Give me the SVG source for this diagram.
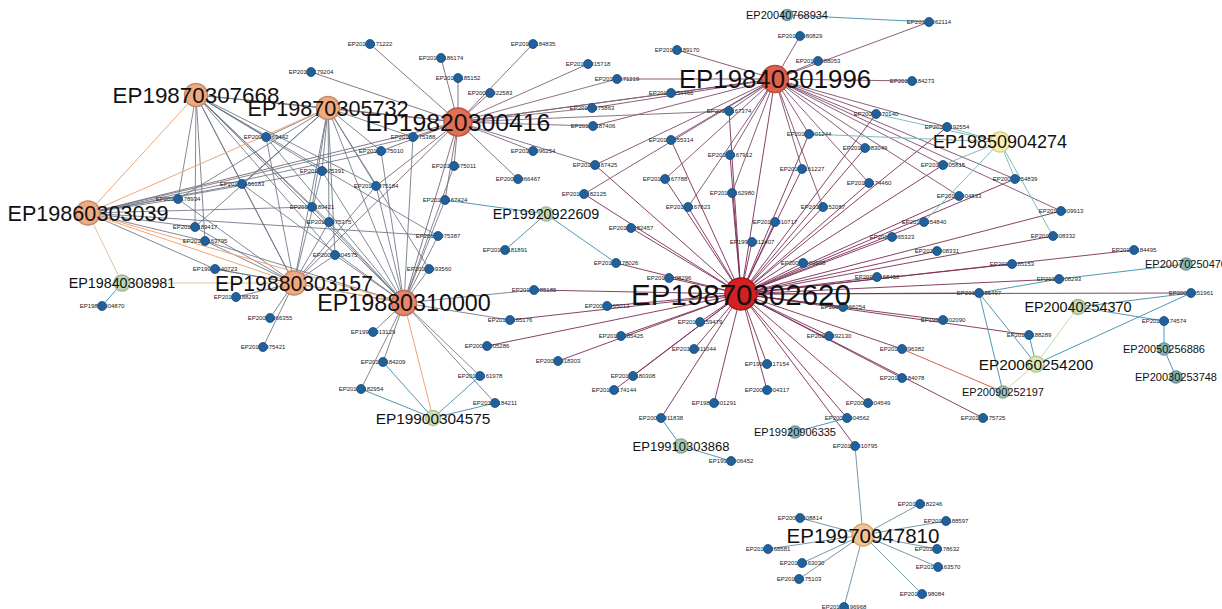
<svg xmlns="http://www.w3.org/2000/svg" width="1222" height="609" viewBox="0 0 1222 609">
<style>
.e line{fill:none;stroke-width:1}
.h{stroke:#7b2c55;stroke-opacity:.9}
.h2{stroke:#7e4d6c;stroke-opacity:.9}
.h3{stroke:#7f6676;stroke-opacity:.9}
.g{stroke:#6c7484;stroke-opacity:.85}
.o{stroke:#f2a574}
.t{stroke:#dfc39a}
.b{stroke:#4f98b6}
.y{stroke:#7fbcbc}
.lg{stroke:#c6dcaa}
.r{stroke:#d9604a}
.gt{stroke:#7898a6}
.sn text{font-family:"Liberation Sans",Arial,sans-serif;font-size:6px;fill:#222;text-anchor:middle;dominant-baseline:central}
.sn circle{fill:#21609a;stroke:#184c7c;stroke-width:.8}
.hub text{font-family:"Liberation Sans",Arial,sans-serif;fill:#111;text-anchor:middle;dominant-baseline:central}
.hub circle{stroke-width:1.5}
</style>
<rect width="1222" height="609" fill="#fff"/>
<g id="edges" class="e">
<!-- hub EP19870302620 -->
<line class="h" x1="741" y1="294" x2="775" y2="79"/>
<line class="h" x1="741" y1="294" x2="584" y2="194"/>
<line class="h" x1="741" y1="294" x2="595" y2="165"/>
<line class="h" x1="741" y1="294" x2="631" y2="228"/>
<line class="h" x1="741" y1="294" x2="616" y2="263"/>
<line class="h" x1="741" y1="294" x2="669" y2="278"/>
<line class="h" x1="741" y1="294" x2="607" y2="306"/>
<line class="h" x1="741" y1="294" x2="534" y2="290"/>
<line class="h" x1="741" y1="294" x2="510" y2="320"/>
<line class="h" x1="741" y1="294" x2="487" y2="346"/>
<line class="h" x1="741" y1="294" x2="558" y2="361"/>
<line class="h" x1="741" y1="294" x2="621" y2="336"/>
<line class="h" x1="741" y1="294" x2="700" y2="322"/>
<line class="h" x1="741" y1="294" x2="694" y2="349"/>
<line class="h" x1="741" y1="294" x2="633" y2="376"/>
<line class="h" x1="741" y1="294" x2="614" y2="390"/>
<line class="h" x1="741" y1="294" x2="714" y2="403"/>
<line class="h" x1="741" y1="294" x2="661" y2="418"/>
<line class="h" x1="741" y1="294" x2="767" y2="364"/>
<line class="h" x1="741" y1="294" x2="767" y2="390"/>
<line class="h" x1="741" y1="294" x2="868" y2="403"/>
<line class="h" x1="741" y1="294" x2="847" y2="418"/>
<line class="h" x1="741" y1="294" x2="855" y2="446"/>
<line class="h" x1="741" y1="294" x2="829" y2="336"/>
<line class="h" x1="741" y1="294" x2="902" y2="349"/>
<line class="h" x1="741" y1="294" x2="902" y2="378"/>
<line class="h" x1="741" y1="294" x2="983" y2="418"/>
<line class="h" x1="741" y1="294" x2="943" y2="320"/>
<line class="h" x1="741" y1="294" x2="1029" y2="335"/>
<line class="h" x1="741" y1="294" x2="979" y2="293"/>
<line class="h" x1="741" y1="294" x2="1191" y2="293"/>
<line class="h" x1="741" y1="294" x2="1059" y2="279"/>
<line class="h" x1="741" y1="294" x2="1012" y2="264"/>
<line class="h" x1="741" y1="294" x2="1134" y2="250"/>
<line class="h" x1="741" y1="294" x2="937" y2="251"/>
<line class="h" x1="741" y1="294" x2="1053" y2="236"/>
<line class="h" x1="741" y1="294" x2="1061" y2="211"/>
<line class="h" x1="741" y1="294" x2="924" y2="222"/>
<line class="h" x1="741" y1="294" x2="892" y2="237"/>
<line class="h" x1="741" y1="294" x2="877" y2="277"/>
<line class="h" x1="741" y1="294" x2="843" y2="307"/>
<line class="h" x1="741" y1="294" x2="803" y2="263"/>
<line class="h" x1="741" y1="294" x2="752" y2="242"/>
<line class="h" x1="741" y1="294" x2="775" y2="222"/>
<line class="h" x1="741" y1="294" x2="823" y2="207"/>
<line class="h" x1="741" y1="294" x2="688" y2="207"/>
<line class="h" x1="741" y1="294" x2="665" y2="179"/>
<line class="h" x1="741" y1="294" x2="671" y2="140"/>
<line class="h" x1="741" y1="294" x2="730" y2="155"/>
<line class="h" x1="741" y1="294" x2="732" y2="193"/>
<line class="h" x1="741" y1="294" x2="802" y2="169"/>
<line class="h" x1="741" y1="294" x2="869" y2="183"/>
<line class="h" x1="741" y1="294" x2="865" y2="148"/>
<line class="h" x1="741" y1="294" x2="809" y2="134"/>
<line class="h" x1="741" y1="294" x2="876" y2="114"/>
<line class="h" x1="741" y1="294" x2="943" y2="165"/>
<line class="h" x1="741" y1="294" x2="959" y2="196"/>
<line class="h" x1="741" y1="294" x2="1015" y2="179"/>
<line class="h" x1="741" y1="294" x2="947" y2="127"/>
<line class="h" x1="741" y1="294" x2="729" y2="111"/>
<!-- hub EP19840301996 -->
<line class="h2" x1="775" y1="79" x2="800" y2="36"/>
<line class="h2" x1="775" y1="79" x2="818" y2="61"/>
<line class="h2" x1="775" y1="79" x2="677" y2="50"/>
<line class="h2" x1="775" y1="79" x2="671" y2="93"/>
<line class="h2" x1="775" y1="79" x2="617" y2="79"/>
<line class="h2" x1="775" y1="79" x2="912" y2="81"/>
<line class="h2" x1="775" y1="79" x2="929" y2="22"/>
<line class="h2" x1="775" y1="79" x2="729" y2="111"/>
<line class="h2" x1="775" y1="79" x2="876" y2="114"/>
<line class="h2" x1="775" y1="79" x2="947" y2="127"/>
<line class="h2" x1="775" y1="79" x2="671" y2="140"/>
<line class="h2" x1="775" y1="79" x2="730" y2="155"/>
<line class="h2" x1="775" y1="79" x2="732" y2="193"/>
<line class="h2" x1="775" y1="79" x2="802" y2="169"/>
<line class="h2" x1="775" y1="79" x2="823" y2="207"/>
<line class="h2" x1="775" y1="79" x2="869" y2="183"/>
<line class="h2" x1="775" y1="79" x2="865" y2="148"/>
<line class="h2" x1="775" y1="79" x2="809" y2="134"/>
<line class="h2" x1="775" y1="79" x2="943" y2="165"/>
<line class="h2" x1="775" y1="79" x2="959" y2="196"/>
<line class="h2" x1="775" y1="79" x2="1015" y2="179"/>
<line class="h2" x1="775" y1="79" x2="1061" y2="211"/>
<line class="h2" x1="775" y1="79" x2="665" y2="179"/>
<line class="h2" x1="775" y1="79" x2="688" y2="207"/>
<line class="h2" x1="775" y1="79" x2="584" y2="194"/>
<line class="h2" x1="775" y1="79" x2="595" y2="165"/>
<line class="h2" x1="775" y1="79" x2="593" y2="126"/>
<line class="h2" x1="775" y1="79" x2="592" y2="108"/>
<line class="h2" x1="775" y1="79" x2="458" y2="122"/>
<!-- hub EP19820300416 -->
<line class="h3" x1="458" y1="122" x2="370" y2="44"/>
<line class="h3" x1="458" y1="122" x2="441" y2="58"/>
<line class="h3" x1="458" y1="122" x2="458" y2="78"/>
<line class="h3" x1="458" y1="122" x2="533" y2="44"/>
<line class="h3" x1="458" y1="122" x2="490" y2="93"/>
<line class="h3" x1="458" y1="122" x2="588" y2="64"/>
<line class="h3" x1="458" y1="122" x2="311" y2="72"/>
<line class="h3" x1="458" y1="122" x2="413" y2="137"/>
<line class="h3" x1="458" y1="122" x2="454" y2="166"/>
<line class="h3" x1="458" y1="122" x2="533" y2="151"/>
<line class="h3" x1="458" y1="122" x2="518" y2="179"/>
<line class="h3" x1="458" y1="122" x2="592" y2="108"/>
<line class="h3" x1="458" y1="122" x2="593" y2="126"/>
<line class="h3" x1="458" y1="122" x2="595" y2="165"/>
<line class="h3" x1="458" y1="122" x2="617" y2="79"/>
<line class="h3" x1="458" y1="122" x2="671" y2="93"/>
<line class="h3" x1="458" y1="122" x2="729" y2="111"/>
<line class="h3" x1="458" y1="122" x2="381" y2="151"/>
<line class="h3" x1="458" y1="122" x2="376" y2="186"/>
<line class="h3" x1="458" y1="122" x2="445" y2="200"/>
<line class="h3" x1="458" y1="122" x2="404" y2="303"/>
<line class="h3" x1="458" y1="122" x2="294" y2="283"/>
<line class="h3" x1="458" y1="122" x2="328" y2="108"/>
<line class="h3" x1="458" y1="122" x2="196" y2="95"/>
<line class="h3" x1="458" y1="122" x2="88" y2="213"/>
<!-- left cluster -->
<line class="g" x1="196" y1="95" x2="328" y2="108"/>
<line class="g" x1="196" y1="95" x2="294" y2="283"/>
<line class="g" x1="196" y1="95" x2="404" y2="303"/>
<line class="g" x1="328" y1="108" x2="294" y2="283"/>
<line class="g" x1="328" y1="108" x2="404" y2="303"/>
<line class="g" x1="196" y1="95" x2="266" y2="137"/>
<line class="g" x1="196" y1="95" x2="242" y2="184"/>
<line class="g" x1="196" y1="95" x2="178" y2="199"/>
<line class="g" x1="196" y1="95" x2="312" y2="207"/>
<line class="g" x1="196" y1="95" x2="329" y2="222"/>
<line class="g" x1="196" y1="95" x2="205" y2="241"/>
<line class="g" x1="196" y1="95" x2="195" y2="227"/>
<line class="g" x1="196" y1="95" x2="335" y2="255"/>
<line class="g" x1="196" y1="95" x2="438" y2="236"/>
<line class="g" x1="196" y1="95" x2="322" y2="171"/>
<line class="g" x1="196" y1="95" x2="376" y2="186"/>
<line class="g" x1="328" y1="108" x2="266" y2="137"/>
<line class="g" x1="328" y1="108" x2="242" y2="184"/>
<line class="g" x1="328" y1="108" x2="322" y2="171"/>
<line class="g" x1="328" y1="108" x2="376" y2="186"/>
<line class="g" x1="328" y1="108" x2="312" y2="207"/>
<line class="g" x1="328" y1="108" x2="329" y2="222"/>
<line class="g" x1="328" y1="108" x2="335" y2="255"/>
<line class="g" x1="328" y1="108" x2="195" y2="227"/>
<line class="g" x1="328" y1="108" x2="178" y2="199"/>
<line class="g" x1="328" y1="108" x2="429" y2="269"/>
<line class="g" x1="328" y1="108" x2="381" y2="151"/>
<line class="g" x1="328" y1="108" x2="413" y2="137"/>
<line class="g" x1="88" y1="213" x2="178" y2="199"/>
<line class="g" x1="88" y1="213" x2="195" y2="227"/>
<line class="g" x1="88" y1="213" x2="205" y2="241"/>
<line class="g" x1="88" y1="213" x2="215" y2="269"/>
<line class="g" x1="88" y1="213" x2="322" y2="171"/>
<line class="g" x1="88" y1="213" x2="381" y2="151"/>
<line class="g" x1="88" y1="213" x2="312" y2="207"/>
<line class="g" x1="88" y1="213" x2="438" y2="236"/>
<line class="g" x1="88" y1="213" x2="413" y2="137"/>
<line class="g" x1="88" y1="213" x2="242" y2="184"/>
<line class="g" x1="294" y1="283" x2="195" y2="227"/>
<line class="g" x1="294" y1="283" x2="205" y2="241"/>
<line class="g" x1="294" y1="283" x2="215" y2="269"/>
<line class="g" x1="294" y1="283" x2="236" y2="297"/>
<line class="g" x1="294" y1="283" x2="270" y2="318"/>
<line class="g" x1="294" y1="283" x2="263" y2="347"/>
<line class="g" x1="294" y1="283" x2="329" y2="222"/>
<line class="g" x1="294" y1="283" x2="335" y2="255"/>
<line class="g" x1="294" y1="283" x2="376" y2="186"/>
<line class="g" x1="294" y1="283" x2="242" y2="184"/>
<line class="g" x1="294" y1="283" x2="178" y2="199"/>
<line class="g" x1="294" y1="283" x2="322" y2="171"/>
<line class="g" x1="294" y1="283" x2="266" y2="137"/>
<line class="g" x1="404" y1="303" x2="329" y2="222"/>
<line class="g" x1="404" y1="303" x2="312" y2="207"/>
<line class="g" x1="404" y1="303" x2="381" y2="151"/>
<line class="g" x1="404" y1="303" x2="322" y2="171"/>
<line class="g" x1="404" y1="303" x2="376" y2="186"/>
<line class="g" x1="404" y1="303" x2="413" y2="137"/>
<line class="g" x1="404" y1="303" x2="454" y2="166"/>
<line class="g" x1="404" y1="303" x2="429" y2="269"/>
<line class="g" x1="404" y1="303" x2="438" y2="236"/>
<line class="g" x1="404" y1="303" x2="335" y2="255"/>
<line class="g" x1="404" y1="303" x2="242" y2="184"/>
<line class="g" x1="404" y1="303" x2="266" y2="137"/>
<line class="g" x1="404" y1="303" x2="445" y2="200"/>
<line class="g" x1="404" y1="303" x2="373" y2="332"/>
<line class="g" x1="404" y1="303" x2="383" y2="362"/>
<line class="g" x1="404" y1="303" x2="361" y2="389"/>
<line class="g" x1="404" y1="303" x2="480" y2="376"/>
<line class="g" x1="404" y1="303" x2="495" y2="403"/>
<line class="g" x1="404" y1="303" x2="534" y2="290"/>
<line class="g" x1="404" y1="303" x2="510" y2="320"/>
<line class="g" x1="404" y1="303" x2="215" y2="269"/>
<line class="g" x1="404" y1="303" x2="205" y2="241"/>
<line class="o" x1="196" y1="95" x2="88" y2="213"/>
<line class="o" x1="328" y1="108" x2="88" y2="213"/>
<line class="o" x1="88" y1="213" x2="294" y2="283"/>
<line class="o" x1="88" y1="213" x2="404" y2="303"/>
<line class="o" x1="294" y1="283" x2="404" y2="303"/>
<line class="o" x1="404" y1="303" x2="433" y2="418"/>
<line class="t" x1="88" y1="213" x2="122" y2="283"/>
<line class="t" x1="122" y1="283" x2="294" y2="283"/>
<!-- teal links -->
<line class="b" x1="122" y1="283" x2="102" y2="306"/>
<line class="b" x1="433" y1="418" x2="383" y2="362"/>
<line class="b" x1="433" y1="418" x2="361" y2="389"/>
<line class="b" x1="433" y1="418" x2="480" y2="376"/>
<line class="b" x1="433" y1="418" x2="495" y2="403"/>
<line class="b" x1="546" y1="214" x2="445" y2="200"/>
<line class="b" x1="546" y1="214" x2="505" y2="250"/>
<line class="b" x1="546" y1="214" x2="616" y2="263"/>
<line class="b" x1="787" y1="15" x2="929" y2="22"/>
<line class="y" x1="1000" y1="142" x2="876" y2="114"/>
<line class="y" x1="1000" y1="142" x2="809" y2="134"/>
<line class="y" x1="1000" y1="142" x2="947" y2="127"/>
<line class="y" x1="1000" y1="142" x2="943" y2="165"/>
<line class="y" x1="1000" y1="142" x2="1015" y2="179"/>
<line class="y" x1="1000" y1="142" x2="1053" y2="236"/>
<line class="y" x1="1000" y1="142" x2="924" y2="222"/>
<line class="b" x1="681" y1="446" x2="661" y2="418"/>
<line class="b" x1="681" y1="446" x2="731" y2="461"/>
<line class="b" x1="795" y1="432" x2="847" y2="418"/>
<line class="b" x1="979" y1="293" x2="1059" y2="279"/>
<line class="b" x1="1059" y1="279" x2="1186" y2="264"/>
<line class="b" x1="979" y1="293" x2="1036" y2="364"/>
<line class="b" x1="979" y1="293" x2="1003" y2="392"/>
<line class="b" x1="1029" y1="335" x2="1036" y2="364"/>
<line class="b" x1="1036" y1="364" x2="1191" y2="293"/>
<line class="b" x1="1078" y1="307" x2="1164" y2="321"/>
<line class="b" x1="1078" y1="307" x2="1191" y2="293"/>
<line class="b" x1="1164" y1="321" x2="1164" y2="349"/>
<line class="b" x1="1164" y1="349" x2="1176" y2="377"/>
<line class="lg" x1="1036" y1="364" x2="1078" y2="307"/>
<line class="lg" x1="1036" y1="364" x2="1003" y2="392"/>
<line class="r" x1="902" y1="349" x2="1003" y2="392"/>
<line class="gt" x1="855" y1="446" x2="863" y2="535"/>
<line class="gt" x1="863" y1="535" x2="800" y2="518"/>
<line class="gt" x1="863" y1="535" x2="768" y2="549"/>
<line class="gt" x1="863" y1="535" x2="802" y2="563"/>
<line class="gt" x1="863" y1="535" x2="799" y2="579"/>
<line class="gt" x1="863" y1="535" x2="844" y2="607"/>
<line class="gt" x1="863" y1="535" x2="920" y2="504"/>
<line class="gt" x1="863" y1="535" x2="946" y2="521"/>
<line class="gt" x1="863" y1="535" x2="937" y2="549"/>
<line class="gt" x1="863" y1="535" x2="938" y2="567"/>
<line class="gt" x1="863" y1="535" x2="922" y2="594"/>
</g>
<g id="small-nodes">
<g id="n-EP20100179204" class="sn"><text x="311" y="72">EP20100179204</text><circle cx="311" cy="72" r="4.5"/></g>
<g id="n-EP20100171222" class="sn"><text x="370" y="44">EP20100171222</text><circle cx="370" cy="44" r="4.5"/></g>
<g id="n-EP20140184835" class="sn"><text x="533" y="44">EP20140184835</text><circle cx="533" cy="44" r="4.5"/></g>
<g id="n-EP20100186174" class="sn"><text x="441" y="58">EP20100186174</text><circle cx="441" cy="58" r="4.5"/></g>
<g id="n-EP20160015718" class="sn"><text x="588" y="64">EP20160015718</text><circle cx="588" cy="64" r="4.5"/></g>
<g id="n-EP20100185152" class="sn"><text x="458" y="78">EP20100185152</text><circle cx="458" cy="78" r="4.5"/></g>
<g id="n-EP20090022583" class="sn"><text x="490" y="93">EP20090022583</text><circle cx="490" cy="93" r="4.5"/></g>
<g id="n-EP20090069442" class="sn"><text x="266" y="137">EP20090069442</text><circle cx="266" cy="137" r="4.5"/></g>
<g id="n-EP20100075388" class="sn"><text x="413" y="137">EP20100075388</text><circle cx="413" cy="137" r="4.5"/></g>
<g id="n-EP20100075010" class="sn"><text x="381" y="151">EP20100075010</text><circle cx="381" cy="151" r="4.5"/></g>
<g id="n-EP20100096254" class="sn"><text x="533" y="151">EP20100096254</text><circle cx="533" cy="151" r="4.5"/></g>
<g id="n-EP20100075011" class="sn"><text x="454" y="166">EP20100075011</text><circle cx="454" cy="166" r="4.5"/></g>
<g id="n-EP20100075391" class="sn"><text x="322" y="171">EP20100075391</text><circle cx="322" cy="171" r="4.5"/></g>
<g id="n-EP20100075184" class="sn"><text x="376" y="186">EP20100075184</text><circle cx="376" cy="186" r="4.5"/></g>
<g id="n-EP20090066467" class="sn"><text x="518" y="179">EP20090066467</text><circle cx="518" cy="179" r="4.5"/></g>
<g id="n-EP20100156183" class="sn"><text x="242" y="184">EP20100156183</text><circle cx="242" cy="184" r="4.5"/></g>
<g id="n-EP20100178934" class="sn"><text x="178" y="199">EP20100178934</text><circle cx="178" cy="199" r="4.5"/></g>
<g id="n-EP20100167424" class="sn"><text x="445" y="200">EP20100167424</text><circle cx="445" cy="200" r="4.5"/></g>
<g id="n-EP20160182125" class="sn"><text x="584" y="194">EP20160182125</text><circle cx="584" cy="194" r="4.5"/></g>
<g id="n-EP20100189421" class="sn"><text x="312" y="207">EP20100189421</text><circle cx="312" cy="207" r="4.5"/></g>
<g id="n-EP20100175863" class="sn"><text x="592" y="108">EP20100175863</text><circle cx="592" cy="108" r="4.5"/></g>
<g id="n-EP20160187406" class="sn"><text x="593" y="126">EP20160187406</text><circle cx="593" cy="126" r="4.5"/></g>
<g id="n-EP20160167425" class="sn"><text x="595" y="165">EP20160167425</text><circle cx="595" cy="165" r="4.5"/></g>
<g id="n-EP20160171219" class="sn"><text x="617" y="79">EP20160171219</text><circle cx="617" cy="79" r="4.5"/></g>
<g id="n-EP20100189417" class="sn"><text x="195" y="227">EP20100189417</text><circle cx="195" cy="227" r="4.5"/></g>
<g id="n-EP20100075375" class="sn"><text x="329" y="222">EP20100075375</text><circle cx="329" cy="222" r="4.5"/></g>
<g id="n-EP20100075387" class="sn"><text x="438" y="236">EP20100075387</text><circle cx="438" cy="236" r="4.5"/></g>
<g id="n-EP20100163795" class="sn"><text x="205" y="241">EP20100163795</text><circle cx="205" cy="241" r="4.5"/></g>
<g id="n-EP20090004575" class="sn"><text x="335" y="255">EP20090004575</text><circle cx="335" cy="255" r="4.5"/></g>
<g id="n-EP20100181891" class="sn"><text x="505" y="250">EP20100181891</text><circle cx="505" cy="250" r="4.5"/></g>
<g id="n-EP20140093560" class="sn"><text x="429" y="269">EP20140093560</text><circle cx="429" cy="269" r="4.5"/></g>
<g id="n-EP19980040723" class="sn"><text x="215" y="269">EP19980040723</text><circle cx="215" cy="269" r="4.5"/></g>
<g id="n-EP20100188293" class="sn"><text x="236" y="297">EP20100188293</text><circle cx="236" cy="297" r="4.5"/></g>
<g id="n-EP19870004870" class="sn"><text x="102" y="306">EP19870004870</text><circle cx="102" cy="306" r="4.5"/></g>
<g id="n-EP20090066355" class="sn"><text x="270" y="318">EP20090066355</text><circle cx="270" cy="318" r="4.5"/></g>
<g id="n-EP20100075421" class="sn"><text x="263" y="347">EP20100075421</text><circle cx="263" cy="347" r="4.5"/></g>
<g id="n-EP20140085185" class="sn"><text x="534" y="290">EP20140085185</text><circle cx="534" cy="290" r="4.5"/></g>
<g id="n-EP20100185176" class="sn"><text x="510" y="320">EP20100185176</text><circle cx="510" cy="320" r="4.5"/></g>
<g id="n-EP19900013129" class="sn"><text x="373" y="332">EP19900013129</text><circle cx="373" cy="332" r="4.5"/></g>
<g id="n-EP20080005286" class="sn"><text x="487" y="346">EP20080005286</text><circle cx="487" cy="346" r="4.5"/></g>
<g id="n-EP20100184209" class="sn"><text x="383" y="362">EP20100184209</text><circle cx="383" cy="362" r="4.5"/></g>
<g id="n-EP20020018303" class="sn"><text x="558" y="361">EP20020018303</text><circle cx="558" cy="361" r="4.5"/></g>
<g id="n-EP20100161978" class="sn"><text x="480" y="376">EP20100161978</text><circle cx="480" cy="376" r="4.5"/></g>
<g id="n-EP20100182954" class="sn"><text x="361" y="389">EP20100182954</text><circle cx="361" cy="389" r="4.5"/></g>
<g id="n-EP20100184211" class="sn"><text x="495" y="403">EP20100184211</text><circle cx="495" cy="403" r="4.5"/></g>
<g id="n-EP20150080829" class="sn"><text x="800" y="36">EP20150080829</text><circle cx="800" cy="36" r="4.5"/></g>
<g id="n-EP20140189170" class="sn"><text x="677" y="50">EP20140189170</text><circle cx="677" cy="50" r="4.5"/></g>
<g id="n-EP20150088053" class="sn"><text x="818" y="61">EP20150088053</text><circle cx="818" cy="61" r="4.5"/></g>
<g id="n-EP20100184273" class="sn"><text x="912" y="81">EP20100184273</text><circle cx="912" cy="81" r="4.5"/></g>
<g id="n-EP20150062114" class="sn"><text x="929" y="22">EP20150062114</text><circle cx="929" cy="22" r="4.5"/></g>
<g id="n-EP20140054466" class="sn"><text x="671" y="93">EP20140054466</text><circle cx="671" cy="93" r="4.5"/></g>
<g id="n-EP20100167374" class="sn"><text x="729" y="111">EP20100167374</text><circle cx="729" cy="111" r="4.5"/></g>
<g id="n-EP20090070140" class="sn"><text x="876" y="114">EP20090070140</text><circle cx="876" cy="114" r="4.5"/></g>
<g id="n-EP20150055314" class="sn"><text x="671" y="140">EP20150055314</text><circle cx="671" cy="140" r="4.5"/></g>
<g id="n-EP20160001244" class="sn"><text x="809" y="134">EP20160001244</text><circle cx="809" cy="134" r="4.5"/></g>
<g id="n-EP20100083049" class="sn"><text x="865" y="148">EP20100083049</text><circle cx="865" cy="148" r="4.5"/></g>
<g id="n-EP20100167912" class="sn"><text x="730" y="155">EP20100167912</text><circle cx="730" cy="155" r="4.5"/></g>
<g id="n-EP20160161227" class="sn"><text x="802" y="169">EP20160161227</text><circle cx="802" cy="169" r="4.5"/></g>
<g id="n-EP20120167788" class="sn"><text x="665" y="179">EP20120167788</text><circle cx="665" cy="179" r="4.5"/></g>
<g id="n-EP20120174460" class="sn"><text x="869" y="183">EP20120174460</text><circle cx="869" cy="183" r="4.5"/></g>
<g id="n-EP20180162980" class="sn"><text x="732" y="193">EP20180162980</text><circle cx="732" cy="193" r="4.5"/></g>
<g id="n-EP20100167823" class="sn"><text x="688" y="207">EP20100167823</text><circle cx="688" cy="207" r="4.5"/></g>
<g id="n-EP20110152087" class="sn"><text x="823" y="207">EP20110152087</text><circle cx="823" cy="207" r="4.5"/></g>
<g id="n-EP20140192554" class="sn"><text x="947" y="127">EP20140192554</text><circle cx="947" cy="127" r="4.5"/></g>
<g id="n-EP20110005815" class="sn"><text x="943" y="165">EP20110005815</text><circle cx="943" cy="165" r="4.5"/></g>
<g id="n-EP20090054839" class="sn"><text x="1015" y="179">EP20090054839</text><circle cx="1015" cy="179" r="4.5"/></g>
<g id="n-EP20150004833" class="sn"><text x="959" y="196">EP20150004833</text><circle cx="959" cy="196" r="4.5"/></g>
<g id="n-EP20100009913" class="sn"><text x="1061" y="211">EP20100009913</text><circle cx="1061" cy="211" r="4.5"/></g>
<g id="n-EP20150182457" class="sn"><text x="631" y="228">EP20150182457</text><circle cx="631" cy="228" r="4.5"/></g>
<g id="n-EP20120010717" class="sn"><text x="775" y="222">EP20120010717</text><circle cx="775" cy="222" r="4.5"/></g>
<g id="n-EP19900012407" class="sn"><text x="752" y="242">EP19900012407</text><circle cx="752" cy="242" r="4.5"/></g>
<g id="n-EP20120065323" class="sn"><text x="892" y="237">EP20120065323</text><circle cx="892" cy="237" r="4.5"/></g>
<g id="n-EP20150054840" class="sn"><text x="924" y="222">EP20150054840</text><circle cx="924" cy="222" r="4.5"/></g>
<g id="n-EP20150178026" class="sn"><text x="616" y="263">EP20150178026</text><circle cx="616" cy="263" r="4.5"/></g>
<g id="n-EP20090069908" class="sn"><text x="803" y="263">EP20090069908</text><circle cx="803" cy="263" r="4.5"/></g>
<g id="n-EP20100108296" class="sn"><text x="669" y="278">EP20100108296</text><circle cx="669" cy="278" r="4.5"/></g>
<g id="n-EP20100168458" class="sn"><text x="877" y="277">EP20100168458</text><circle cx="877" cy="277" r="4.5"/></g>
<g id="n-EP20080065013" class="sn"><text x="607" y="306">EP20080065013</text><circle cx="607" cy="306" r="4.5"/></g>
<g id="n-EP20100066254" class="sn"><text x="843" y="307">EP20100066254</text><circle cx="843" cy="307" r="4.5"/></g>
<g id="n-EP20100159479" class="sn"><text x="700" y="322">EP20100159479</text><circle cx="700" cy="322" r="4.5"/></g>
<g id="n-EP20120085425" class="sn"><text x="621" y="336">EP20120085425</text><circle cx="621" cy="336" r="4.5"/></g>
<g id="n-EP20120092130" class="sn"><text x="829" y="336">EP20120092130</text><circle cx="829" cy="336" r="4.5"/></g>
<g id="n-EP20100011044" class="sn"><text x="694" y="349">EP20100011044</text><circle cx="694" cy="349" r="4.5"/></g>
<g id="n-EP20130096382" class="sn"><text x="902" y="349">EP20130096382</text><circle cx="902" cy="349" r="4.5"/></g>
<g id="n-EP19900117154" class="sn"><text x="767" y="364">EP19900117154</text><circle cx="767" cy="364" r="4.5"/></g>
<g id="n-EP20100180308" class="sn"><text x="633" y="376">EP20100180308</text><circle cx="633" cy="376" r="4.5"/></g>
<g id="n-EP20130184078" class="sn"><text x="902" y="378">EP20130184078</text><circle cx="902" cy="378" r="4.5"/></g>
<g id="n-EP20100174144" class="sn"><text x="614" y="390">EP20100174144</text><circle cx="614" cy="390" r="4.5"/></g>
<g id="n-EP20010004317" class="sn"><text x="767" y="390">EP20010004317</text><circle cx="767" cy="390" r="4.5"/></g>
<g id="n-EP19860001291" class="sn"><text x="714" y="403">EP19860001291</text><circle cx="714" cy="403" r="4.5"/></g>
<g id="n-EP20080004549" class="sn"><text x="868" y="403">EP20080004549</text><circle cx="868" cy="403" r="4.5"/></g>
<g id="n-EP20080011838" class="sn"><text x="661" y="418">EP20080011838</text><circle cx="661" cy="418" r="4.5"/></g>
<g id="n-EP20090004562" class="sn"><text x="847" y="418">EP20090004562</text><circle cx="847" cy="418" r="4.5"/></g>
<g id="n-EP20120010795" class="sn"><text x="855" y="446">EP20120010795</text><circle cx="855" cy="446" r="4.5"/></g>
<g id="n-EP19910006452" class="sn"><text x="731" y="461">EP19910006452</text><circle cx="731" cy="461" r="4.5"/></g>
<g id="n-EP20170175725" class="sn"><text x="983" y="418">EP20170175725</text><circle cx="983" cy="418" r="4.5"/></g>
<g id="n-EP20140008332" class="sn"><text x="1053" y="236">EP20140008332</text><circle cx="1053" cy="236" r="4.5"/></g>
<g id="n-EP20110008331" class="sn"><text x="937" y="251">EP20110008331</text><circle cx="937" cy="251" r="4.5"/></g>
<g id="n-EP20140184495" class="sn"><text x="1134" y="250">EP20140184495</text><circle cx="1134" cy="250" r="4.5"/></g>
<g id="n-EP20110185153" class="sn"><text x="1012" y="264">EP20110185153</text><circle cx="1012" cy="264" r="4.5"/></g>
<g id="n-EP20110008293" class="sn"><text x="1059" y="279">EP20110008293</text><circle cx="1059" cy="279" r="4.5"/></g>
<g id="n-EP20110185497" class="sn"><text x="979" y="293">EP20110185497</text><circle cx="979" cy="293" r="4.5"/></g>
<g id="n-EP20080051961" class="sn"><text x="1191" y="293">EP20080051961</text><circle cx="1191" cy="293" r="4.5"/></g>
<g id="n-EP19940002090" class="sn"><text x="943" y="320">EP19940002090</text><circle cx="943" cy="320" r="4.5"/></g>
<g id="n-EP20150174574" class="sn"><text x="1164" y="321">EP20150174574</text><circle cx="1164" cy="321" r="4.5"/></g>
<g id="n-EP20120188289" class="sn"><text x="1029" y="335">EP20120188289</text><circle cx="1029" cy="335" r="4.5"/></g>
<g id="n-EP20090008814" class="sn"><text x="800" y="518">EP20090008814</text><circle cx="800" cy="518" r="4.5"/></g>
<g id="n-EP20100168581" class="sn"><text x="768" y="549">EP20100168581</text><circle cx="768" cy="549" r="4.5"/></g>
<g id="n-EP20100163030" class="sn"><text x="802" y="563">EP20100163030</text><circle cx="802" cy="563" r="4.5"/></g>
<g id="n-EP20100175103" class="sn"><text x="799" y="579">EP20100175103</text><circle cx="799" cy="579" r="4.5"/></g>
<g id="n-EP20100196968" class="sn"><text x="844" y="607">EP20100196968</text><circle cx="844" cy="607" r="4.5"/></g>
<g id="n-EP20100182246" class="sn"><text x="920" y="504">EP20100182246</text><circle cx="920" cy="504" r="4.5"/></g>
<g id="n-EP20160188597" class="sn"><text x="946" y="521">EP20160188597</text><circle cx="946" cy="521" r="4.5"/></g>
<g id="n-EP20120178632" class="sn"><text x="937" y="549">EP20120178632</text><circle cx="937" cy="549" r="4.5"/></g>
<g id="n-EP20170163570" class="sn"><text x="938" y="567">EP20170163570</text><circle cx="938" cy="567" r="4.5"/></g>
<g id="n-EP20180198084" class="sn"><text x="922" y="594">EP20180198084</text><circle cx="922" cy="594" r="4.5"/></g>
</g>
<g id="hubs">
<g id="n-EP20040768934" class="hub"><circle cx="787" cy="15" r="5.5" fill="#8ab8b8" stroke="#6a9898"/><text x="787" y="15" font-size="11">EP20040768934</text></g>
<g id="n-EP20070250470" class="hub"><circle cx="1186" cy="264" r="6" fill="#88b8bc" stroke="#6a9a9e"/><text x="1186" y="264" font-size="11">EP20070250470</text></g>
<g id="n-EP20050256886" class="hub"><circle cx="1164" cy="349" r="6" fill="#88b8bc" stroke="#6a9a9e"/><text x="1164" y="349" font-size="11">EP20050256886</text></g>
<g id="n-EP20030253748" class="hub"><circle cx="1176" cy="377" r="6" fill="#80b0b4" stroke="#649498"/><text x="1176" y="377" font-size="11">EP20030253748</text></g>
<g id="n-EP20090252197" class="hub"><circle cx="1003" cy="392" r="6" fill="#a2c4ac" stroke="#84a690"/><text x="1003" y="392" font-size="11">EP20090252197</text></g>
<g id="n-EP19920906335" class="hub"><circle cx="795" cy="432" r="6" fill="#88b8b8" stroke="#6a9a9a"/><text x="795" y="432" font-size="11">EP19920906335</text></g>
<g id="n-EP19910303868" class="hub"><circle cx="681" cy="446" r="7" fill="#a8c8b0" stroke="#8aaa92"/><text x="681" y="446" font-size="13">EP19910303868</text></g>
<g id="n-EP20040254370" class="hub"><circle cx="1078" cy="307" r="7.5" fill="#c6dcb0" stroke="#a6bc92"/><text x="1078" y="307" font-size="14.4">EP20040254370</text></g>
<g id="n-EP20060254200" class="hub"><circle cx="1036" cy="364" r="8" fill="#d8e8b4" stroke="#b6c894"/><text x="1036" y="364" font-size="15.4">EP20060254200</text></g>
<g id="n-EP19840308981" class="hub"><circle cx="122" cy="283" r="8" fill="#bcd6b4" stroke="#9cb896"/><text x="122" y="283" font-size="14.3">EP19840308981</text></g>
<g id="n-EP19920922609" class="hub"><circle cx="546" cy="214" r="7" fill="#c4dcb4" stroke="#a4bc96"/><text x="546" y="214" font-size="14.3">EP19920922609</text></g>
<g id="n-EP19900304575" class="hub"><circle cx="433" cy="418" r="7.5" fill="#d0e0b8" stroke="#b0c29a"/><text x="433" y="418" font-size="15.4">EP19900304575</text></g>
<g id="n-EP19850904274" class="hub"><circle cx="1000" cy="142" r="10" fill="#f8f0b0" stroke="#d8d092"/><text x="1000" y="142" font-size="18">EP19850904274</text></g>
<g id="n-EP19970947810" class="hub"><circle cx="863" cy="535" r="11" fill="#f5c492" stroke="#d4a678"/><text x="863" y="535" font-size="20.5">EP19970947810</text></g>
<g id="n-EP19870307668" class="hub"><circle cx="196" cy="95" r="11.5" fill="#f0aa80" stroke="#c88a68"/><text x="196" y="95" font-size="22.4">EP19870307668</text></g>
<g id="n-EP19870305732" class="hub"><circle cx="328" cy="108" r="11.5" fill="#f0aa80" stroke="#c88a68"/><text x="328" y="108" font-size="21.6">EP19870305732</text></g>
<g id="n-EP19860303039" class="hub"><circle cx="88" cy="213" r="12" fill="#f0aa80" stroke="#c88a68"/><text x="88" y="213" font-size="21.6">EP19860303039</text></g>
<g id="n-EP19880303157" class="hub"><circle cx="294" cy="283" r="12" fill="#f0aa80" stroke="#c88a68"/><text x="294" y="283" font-size="21.2">EP19880303157</text></g>
<g id="n-EP19880310000" class="hub"><circle cx="404" cy="303" r="12.5" fill="#e8866a" stroke="#c06a52"/><text x="404" y="303" font-size="23.3">EP19880310000</text></g>
<g id="n-EP19820300416" class="hub"><circle cx="458" cy="122" r="14" fill="#e36f55" stroke="#b85642"/><text x="458" y="122" font-size="24.8">EP19820300416</text></g>
<g id="n-EP19840301996" class="hub"><circle cx="775" cy="79" r="13.5" fill="#e2604a" stroke="#b84a3a"/><text x="775" y="79" font-size="25.8">EP19840301996</text></g>
<g id="n-EP19870302620" class="hub"><circle cx="741" cy="294" r="16" fill="#d42020" stroke="#a01818"/><text x="741" y="294" font-size="29.5">EP19870302620</text></g>
</g>
</svg>
